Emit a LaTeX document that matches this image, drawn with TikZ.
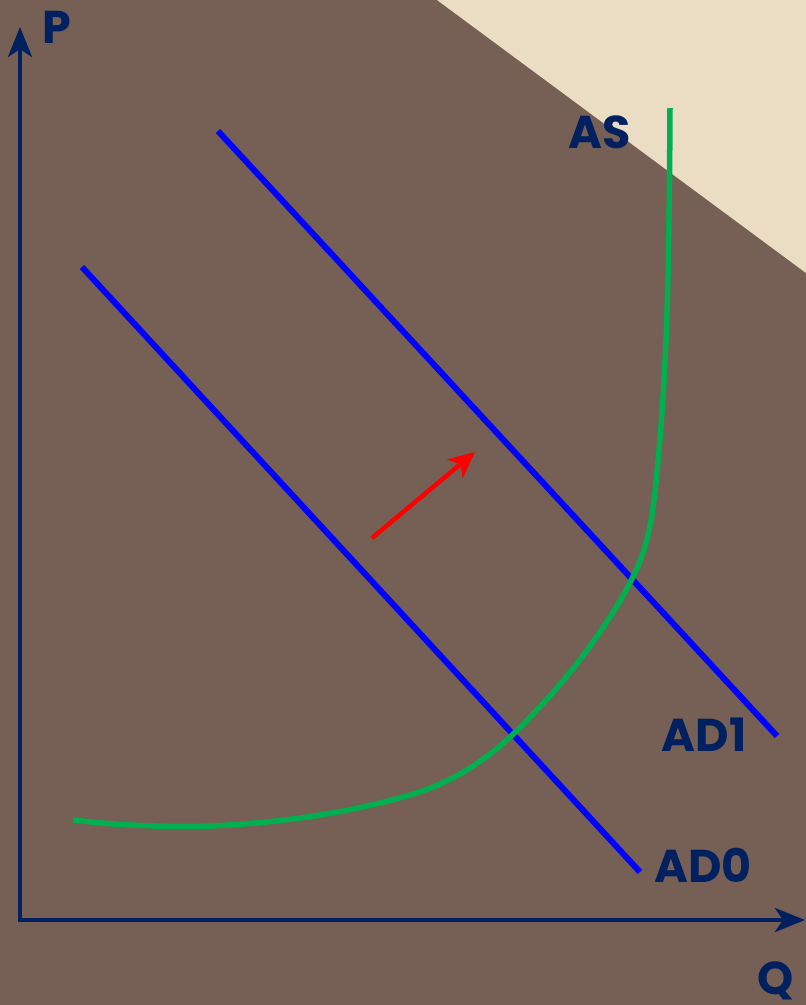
\documentclass[tikz,border=0pt]{standalone}
\usepackage{fontspec}
\setmainfont{Poppins}[UprightFont=* SemiBold, BoldFont=* Bold]
\usetikzlibrary{arrows.meta}
\definecolor{bgbrown}{HTML}{765F54}
\definecolor{bgbeige}{HTML}{EADDC3}
\definecolor{navy}{HTML}{002060}
\definecolor{asgreen}{HTML}{00B050}
\tikzset{
  axis/.style={navy, line width=4.5pt, -{Stealth[length=30pt,width=24pt,inset=8pt]}},
  adline/.style={blue, line width=6pt},
  lbl/.style={text=navy, font=\fontsize{46}{46}\selectfont\bfseries, inner sep=0pt},
}
\begin{document}
\begin{tikzpicture}[x=1pt,y=-1pt]
\useasboundingbox (0,0) rectangle (806,1005);
\fill[bgbrown] (0,0) rectangle (806,1005);
\fill[bgbeige] (437,0) -- (806,0) -- (806,273) -- cycle;
% axes
\coordinate (o1) at (20,918);
\coordinate (ptip) at (20,27);
\coordinate (o2) at (18,920);
\coordinate (qtip) at (805,920);
\draw[axis] (o1) -- (ptip);
\draw[axis] (o2) -- (qtip);
\node[lbl] (P) at (57,27) {P};
\node[lbl] (Q) at (776,981) {Q};
% AD lines
\coordinate (ad0a) at (82,267);
\coordinate (ad0b) at (640,872);
\coordinate (ad1a) at (218,131);
\coordinate (ad1b) at (777,736);
\draw[adline] (ad0a) -- (ad0b);
\draw[adline] (ad1a) -- (ad1b);
\node[lbl] (AD0) at (703,865) {AD0};
\node[lbl] (AD1) at (704,735) {AD1};
% AS curve
\draw[asgreen, line width=5.5pt, line cap=butt]
  plot[smooth, tension=0.6] coordinates {(73,820) (130,825) (210,826) (300,818) (380,803) (440,784) (490,754) (535,712) (582,657) (625,592) (648,535) (659,450) (666,340) (669,220) (670,108)};
\node[lbl] (AS) at (600,132) {AS};
% shift arrow
\coordinate (r1) at (372,538);
\coordinate (r2) at (475,452);
\draw[red, line width=4.5pt, -{Stealth[length=26pt,width=24pt,inset=7pt]}] (r1) -- (r2);
\end{tikzpicture}
\end{document}
